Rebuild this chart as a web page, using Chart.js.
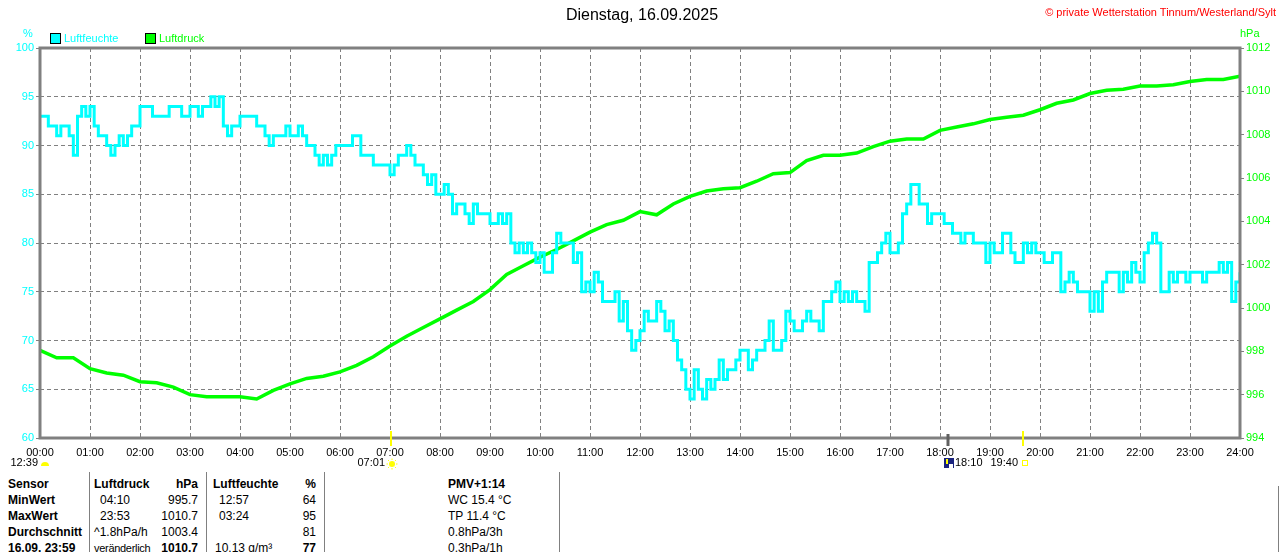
<!DOCTYPE html>
<html>
<head>
<meta charset="utf-8">
<script src="https://cdn.jsdelivr.net/npm/chart.js@4.4.1/dist/chart.umd.min.js"></script>
<style>
body{margin:0;background:#fff;font-family:"Liberation Sans",Arial,sans-serif;}
#wrap{position:relative;width:1280px;height:552px;overflow:hidden;}
#chart{position:absolute;left:0;top:0;}
.t{position:absolute;white-space:nowrap;font-size:12px;line-height:14px;color:#000;}
.b{font-weight:bold;}
.sep{position:absolute;width:1px;background:#808080;}
.box{position:absolute;width:9px;height:9px;border:1px solid #000;}
</style>
</head>
<body>
<div id="wrap">
<canvas id="chart" width="1280" height="470"></canvas>

<!-- header -->
<div class="t" style="left:0;width:1284px;text-align:center;top:6px;font-size:16px;line-height:18px;">Dienstag, 16.09.2025</div>
<div class="t" style="right:4px;top:5px;font-size:11px;color:#ff0000;">&copy; private Wetterstation Tinnum/Westerland/Sylt</div>
<div class="t" style="left:23px;top:26px;font-size:11px;color:#00ffff;">%</div>
<div class="t" style="left:1240px;top:26px;font-size:11px;color:#00ff00;">hPa</div>
<div class="box" style="left:50px;top:33px;background:#00ffff;"></div>
<div class="t" style="left:64px;top:31px;font-size:11px;color:#00ffff;">Luftfeuchte</div>
<div class="box" style="left:145px;top:33px;background:#00ff00;"></div>
<div class="t" style="left:159px;top:31px;font-size:11px;color:#00ff00;">Luftdruck</div>

<!-- table -->
<div class="sep" style="left:89px;top:472px;height:80px;"></div>
<div class="sep" style="left:206px;top:472px;height:80px;"></div>
<div class="sep" style="left:324px;top:472px;height:80px;"></div>
<div class="sep" style="left:559px;top:472px;height:80px;"></div>
<div class="sep" style="left:1278px;top:486px;height:66px;"></div>

<div class="t b" style="left:8px;top:477px;">Sensor</div>
<div class="t b" style="left:94px;top:477px;">Luftdruck</div>
<div class="t b" style="right:1082px;top:477px;">hPa</div>
<div class="t b" style="left:213px;top:477px;">Luftfeuchte</div>
<div class="t b" style="right:964px;top:477px;">%</div>
<div class="t b" style="left:448px;top:477px;">PMV+1:14</div>

<div class="t b" style="left:8px;top:493px;">MinWert</div>
<div class="t" style="left:100px;top:493px;">04:10</div>
<div class="t" style="right:1082px;top:493px;">995.7</div>
<div class="t" style="left:219px;top:493px;">12:57</div>
<div class="t" style="right:964px;top:493px;">64</div>
<div class="t" style="left:448px;top:493px;">WC 15.4 °C</div>

<div class="t b" style="left:8px;top:509px;">MaxWert</div>
<div class="t" style="left:100px;top:509px;">23:53</div>
<div class="t" style="right:1082px;top:509px;">1010.7</div>
<div class="t" style="left:219px;top:509px;">03:24</div>
<div class="t" style="right:964px;top:509px;">95</div>
<div class="t" style="left:448px;top:509px;">TP 11.4 °C</div>

<div class="t b" style="left:8px;top:525px;">Durchschnitt</div>
<div class="t" style="left:94px;top:525px;">^1.8hPa/h</div>
<div class="t" style="right:1082px;top:525px;">1003.4</div>
<div class="t" style="right:964px;top:525px;">81</div>
<div class="t" style="left:448px;top:525px;">0.8hPa/3h</div>

<div class="t b" style="left:8px;top:541px;">16.09. 23:59</div>
<div class="t" style="left:94px;top:541px;font-size:11px;letter-spacing:-0.3px;">veränderlich</div>
<div class="t b" style="right:1082px;top:541px;">1010.7</div>
<div class="t" style="left:215px;top:541px;">10.13 g/m³</div>
<div class="t b" style="right:964px;top:541px;">77</div>
<div class="t" style="left:448px;top:541px;">0.3hPa/1h</div>
</div>

<script>
/* ==========================================
   DATA
========================================== */

// humidity (%), one value every 5 minutes, 00:00 .. 24:00 (one hour per row)
const HUM_STEP = 5;
const humidity = [
93,93,92,92,91,92,92,91,89,93,94,93,
94,92,91,91,90,89,90,91,90,91,92,92,
94,94,94,93,93,93,93,94,94,94,93,93,
94,94,93,94,94,95,94,95,92,91,92,92,
93,93,93,93,92,92,91,90,91,91,91,92,
91,91,92,91,90,90,89,88,89,88,89,90,
90,90,90,91,91,89,89,89,88,88,88,88,
87,88,89,89,90,89,88,88,87,86,87,85,
85,86,85,83,84,84,83,82,84,83,83,83,
82,82,83,82,83,80,79,80,79,80,79,78,
79,77,77,79,81,80,80,80,78,79,75,76,
75,77,76,74,74,74,75,72,74,71,69,70,
71,73,72,72,74,73,71,72,70,68,67,65,
64,67,65,64,66,65,66,68,66,67,67,68,
69,69,67,68,69,69,70,72,69,69,70,73,
72,71,71,72,73,72,72,71,74,74,75,76,
74,75,74,75,74,74,73,78,78,79,80,81,
79,79,80,83,84,86,86,84,84,82,83,83,
83,82,82,81,81,80,81,81,80,80,80,78,
80,79,79,81,81,79,78,78,80,79,80,79,
79,78,78,79,79,75,76,77,76,75,75,75,
73,75,73,76,77,77,77,75,77,76,78,77,
76,79,80,81,80,75,75,77,76,77,77,76,
77,77,77,76,77,77,77,78,77,78,74,76,
77
];

// pressure (hPa), one value every 20 minutes, 00:00 .. 24:00
const PRES_STEP = 20;
const pressure = [
998.05,997.7,997.7,997.2,997.0,996.9,996.6,996.55,996.35,
996.0,995.9,995.9,995.9,995.8,996.2,996.5,996.75,996.85,
997.05,997.35,997.75,998.25,998.7,999.1,999.5,999.9,1000.3,
1000.85,1001.55,1001.95,1002.35,1002.7,1003.1,1003.5,1003.85,1004.05,
1004.45,1004.3,1004.8,1005.15,1005.4,1005.5,1005.55,1005.85,1006.2,
1006.25,1006.8,1007.05,1007.05,1007.15,1007.45,1007.7,1007.8,1007.8,
1008.2,1008.35,1008.5,1008.7,1008.8,1008.9,1009.15,1009.45,1009.6,
1009.9,1010.05,1010.1,1010.25,1010.25,1010.3,1010.45,1010.55,1010.55,
1010.7
];

const hourLabels = [
"00:00","01:00","02:00","03:00","04:00","05:00","06:00","07:00",
"08:00","09:00","10:00","11:00","12:00","13:00","14:00","15:00",
"16:00","17:00","18:00","19:00","20:00","21:00","22:00","23:00","24:00"
];

// sun / moon markers under the time axis
const markerLabels = ["12:39","07:01","18:10","19:40"];
const markerMinutes = [0,421,1090,1180];
const markerKinds = ["moon","sunrise","moonrise","sunset"];


/* ==========================================
   MARKERS + FRAME
========================================== */

const framePlugin = {

id:"frame",

afterDraw(chart){

const {ctx, chartArea:a, scales:{x}} = chart;

ctx.save();

ctx.strokeStyle="#808080";
ctx.lineWidth=3;
ctx.strokeRect(a.left,a.top,a.right-a.left,a.bottom-a.top);

ctx.font="11px 'Liberation Sans', Arial, sans-serif";
ctx.textBaseline="middle";
ctx.fillStyle="#000";

const ty=463;

markerKinds.forEach((kind,i)=>{

const px=Math.round(x.getPixelForValue(markerMinutes[i]));
const label=markerLabels[i];

if(kind==="sunrise"||kind==="sunset"){
ctx.strokeStyle="#ffff00";
ctx.lineWidth=2;
ctx.beginPath();
ctx.moveTo(px,a.bottom-7);
ctx.lineTo(px,a.bottom+8);
ctx.stroke();
}

if(kind==="moonrise"){
ctx.strokeStyle="#606060";
ctx.lineWidth=3;
ctx.beginPath();
ctx.moveTo(px,a.bottom-4);
ctx.lineTo(px,a.bottom+8);
ctx.stroke();
}

ctx.fillStyle="#000";

if(kind==="moon"){
ctx.textAlign="right";
ctx.fillText(label,px-2,ty);
ctx.fillStyle="#ffff00";
ctx.beginPath();
ctx.arc(px+5,ty+3,4,Math.PI,0);
ctx.fill();
}

if(kind==="sunrise"){
ctx.textAlign="right";
ctx.fillText(label,px-6,ty);
ctx.fillStyle="#ffff00";
ctx.beginPath();
ctx.arc(px+1,ty+1,3,0,Math.PI*2);
ctx.fill();
ctx.strokeStyle="#ffff00";
ctx.lineWidth=1;
for(let k=0;k<8;k++){
const an=k*Math.PI/4;
ctx.beginPath();
ctx.moveTo(px+1+Math.cos(an)*4,ty+1+Math.sin(an)*4);
ctx.lineTo(px+1+Math.cos(an)*5.5,ty+1+Math.sin(an)*5.5);
ctx.stroke();
}
}

if(kind==="moonrise"){
ctx.fillStyle="#1a237e";
ctx.fillRect(px-4,ty-5,10,10);
ctx.fillStyle="#ffff00";
ctx.fillRect(px-2,ty-4,2,5);
ctx.fillStyle="#ffffff";
ctx.fillRect(px+1,ty+1,4,4);
ctx.fillStyle="#000";
ctx.textAlign="left";
ctx.fillText(label,px+7,ty);
}

if(kind==="sunset"){
ctx.textAlign="right";
ctx.fillText(label,px-5,ty);
ctx.strokeStyle="#ffff00";
ctx.lineWidth=1;
ctx.strokeRect(px-0.5,ty-2.5,5,5);
}

});

ctx.restore();

}

};


/* ==========================================
   CHART
========================================== */

const humPoints = humidity.map((v,i)=>({x:i*HUM_STEP,y:v}));
const presPoints = pressure.map((v,i)=>({x:i*PRES_STEP,y:v}));

const gridGray = "#808080";
const tickFont = {family:"'Liberation Sans', Arial, sans-serif", size:11};

new Chart(document.getElementById("chart"),{

type:"line",

data:{
datasets:[
{
label:"Luftfeuchte",
data:humPoints,
yAxisID:"yH",
borderColor:"#00ffff",
backgroundColor:"#00ffff",
borderWidth:3,
stepped:true,
pointRadius:0,
fill:false
},
{
label:"Luftdruck",
data:presPoints,
yAxisID:"yP",
borderColor:"#00ff00",
backgroundColor:"#00ff00",
borderWidth:3.5,
pointRadius:0,
tension:0,
fill:false
}
]
},

options:{

responsive:false,
animation:false,
events:[],

layout:{padding:{top:48,left:0,right:0,bottom:0}},

plugins:{
legend:{display:false},
tooltip:{enabled:false}
},

scales:{

x:{
type:"linear",
min:0,
max:1440,
ticks:{
stepSize:60,
autoSkip:false,
maxRotation:0,
color:"#000",
font:tickFont,
padding:8,
callback:v=>hourLabels[v/60]
},
grid:{color:gridGray,lineWidth:1,drawTicks:false},
border:{display:false,dash:[4,3]},
afterFit(s){ s.height=32; }
},

yH:{
position:"left",
min:60,
max:100,
ticks:{stepSize:5,color:"#00ffff",font:tickFont,padding:2,callback:v=>String(v)},
grid:{color:gridGray,lineWidth:1,drawTicks:true,tickLength:4,tickColor:gridGray},
border:{display:false,dash:[4,3]},
afterFit(s){ s.width=40; }
},

yP:{
position:"right",
min:994,
max:1012,
ticks:{stepSize:2,color:"#00ff00",font:tickFont,padding:2,callback:v=>String(v)},
grid:{drawOnChartArea:false,drawTicks:true,tickLength:4,tickColor:gridGray,color:gridGray},
border:{display:false},
afterFit(s){ s.width=40; }
}

}

},

plugins:[framePlugin]

});
</script>
</body>
</html>
